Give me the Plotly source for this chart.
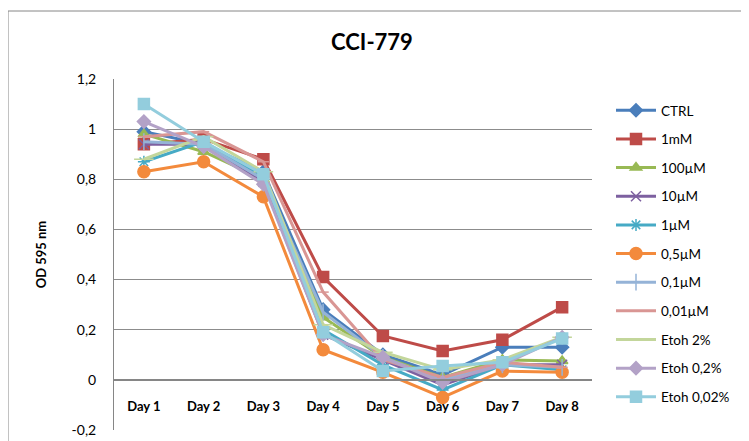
import plotly.graph_objects as go

days = ["Day 1", "Day 2", "Day 3", "Day 4", "Day 5", "Day 6", "Day 7", "Day 8"]

ctrl      = [0.99, 0.94, 0.83, 0.28, 0.10, 0.02, 0.13, 0.13]
mm1       = [0.94, 0.96, 0.88, 0.41, 0.175, 0.115, 0.16, 0.29]
um100     = [0.98, 0.91, 0.80, 0.25, 0.09, 0.01, 0.08, 0.075]
um10      = [0.94, 0.94, 0.79, 0.18, 0.08, -0.02, 0.06, 0.06]
um1       = [0.87, 0.95, 0.81, 0.20, 0.06, -0.04, 0.06, 0.04]
um05      = [0.83, 0.87, 0.73, 0.12, 0.03, -0.07, 0.035, 0.03]
um01      = [0.95, 0.94, 0.80, 0.27, 0.09, 0.00, 0.06, 0.05]
um001     = [0.97, 0.99, 0.87, 0.35, 0.08, 0.01, 0.07, 0.05]
etoh2     = [0.88, 0.97, 0.83, 0.22, 0.11, 0.04, 0.08, 0.17]
etoh02    = [1.03, 0.93, 0.78, 0.18, 0.09, -0.01, 0.06, 0.17]
etoh002   = [1.10, 0.95, 0.82, 0.19, 0.035, 0.055, 0.07, 0.165]

series_names = ["CTRL", "1mM", "100µM", "10µM", "1µM", "0,5µM", "0,1µM", "0,01µM",
                "Etoh 2%", "Etoh 0,2%", "Etoh 0,02%"]
series_values = [ctrl, mm1, um100, um10, um1, um05, um01, um001, etoh2, etoh02, etoh002]

y_tickvals = [-0.2, 0, 0.2, 0.4, 0.6, 0.8, 1.0, 1.2]
y_ticktext = ["-0,2", "0", "0,2", "0,4", "0,6", "0,8", "1", "1,2"]

colors = ["#4A7EBB", "#BE4B48", "#98B954", "#7D60A0", "#46AAC5", "#F38A3C",
          "#95B3D7", "#D99694", "#C3D69B", "#B3A2C7", "#93CDDD"]
symbols = ["diamond", "square", "triangle-up", "x-thin-open", "asterisk-open", "circle",
           "line-ns-open", "line-ew-open", "line-ew-open", "diamond", "square"]
sizes = [10, 11, 10, 10, 10, 12, 12, 8, 14, 10, 11]

FONT = "Lato, Carlito, Arial"

fig = go.Figure()
for i, (name, vals) in enumerate(zip(series_names, series_values)):
    c = colors[i]
    fig.add_trace(go.Scatter(
        x=days, y=vals, name=name, mode="lines+markers",
        line=dict(color=c, width=3),
        marker=dict(symbol=symbols[i], size=sizes[i], color=c,
                    line=dict(color=c, width=1.5)),
        legendgroup=name,
    ))

W, H = 749, 441
OFF = 8  # page body margin offset
# target screen positions of the plot area
SX0, SX1, SY0, SY1 = 114, 592, 79, 430
L = SX0 - OFF
R = W - (SX1 - OFF)
T = SY0 - OFF
B = H - (SY1 - OFF)
pw = W - L - R
ph = H - T - B


def px(sx):
    return (sx - SX0) / pw


def py(sy):
    return (SY1 - sy) / ph


fig.update_layout(
    width=W, height=H,
    margin=dict(l=L, r=R, t=T, b=B, autoexpand=False),
    paper_bgcolor="white", plot_bgcolor="white",
    separators=", ",
    font=dict(family=FONT, size=13, color="#000000"),
    title=dict(text="<b>CCI-779</b>", x=(372 - OFF) / W, xanchor="center",
               y=1 - (42 - OFF) / H, yanchor="middle",
               font=dict(size=22, family=FONT)),
    showlegend=True,
    legend=dict(x=px(611), xanchor="left", y=py(95), yanchor="top",
                font=dict(size=13.5), tracegroupgap=8.1, itemwidth=40,
                bgcolor="rgba(0,0,0,0)"),
    xaxis=dict(
        type="category", range=[-0.5, 7.5],
        anchor="free", position=0.2 / 1.4,
        showline=True, linecolor="#868686", linewidth=1.5,
        showgrid=False, zeroline=False, ticks="",
        tickfont=dict(size=13, family=FONT, color="#000000"),
        ticklabelstandoff=15,
        tickprefix="<b>", ticksuffix="</b>",
        automargin=False,
    ),
    yaxis=dict(
        range=[-0.2, 1.2], tickvals=y_tickvals, ticktext=y_ticktext,
        showgrid=True, gridcolor="#8C8C8C", gridwidth=1,
        zeroline=False, showline=True, linecolor="#868686", linewidth=1,
        ticks="", ticklabelstandoff=14,
        tickfont=dict(size=14),
        automargin=False,
        title=dict(text="<b>OD 595 nm</b>", font=dict(size=13), standoff=22),
    ),
)

# outer chart border
fig.add_shape(type="rect", xref="paper", yref="paper",
              x0=px(8), x1=px(W + 20),
              y0=py(460), y1=py(11),
              line=dict(color="#868686", width=1), fillcolor="rgba(0,0,0,0)",
              layer="below")

fig.write_html("out.html")
